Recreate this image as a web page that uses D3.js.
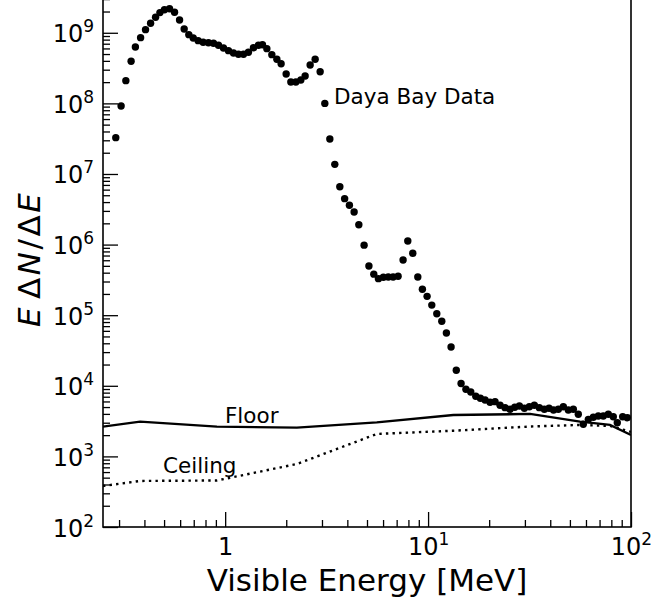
<!DOCTYPE html>
<html>
<head>
<meta charset="utf-8">
<script src="https://cdn.jsdelivr.net/npm/d3@7/dist/d3.min.js"></script>
<style>
  html, body { margin: 0; padding: 0; background: #fff; }
  svg { display: block; font-family: "DejaVu Sans", sans-serif; }
</style>
</head>
<body>
<svg id="chart" width="652" height="604"></svg>
<script>
// ---- data ----
const energy = [0.289, 0.307, 0.324, 0.344, 0.361, 0.383, 0.405, 0.429, 0.454, 0.477,
  0.502, 0.532, 0.563, 0.596, 0.628, 0.662, 0.696, 0.736, 0.779, 0.827,
  0.876, 0.927, 0.981, 1.038, 1.099, 1.163, 1.231, 1.302, 1.379, 1.459,
  1.527, 1.605, 1.698, 1.798, 1.887, 1.998, 2.107, 2.230, 2.360, 2.478,
  2.623, 2.776, 2.938, 3.098, 3.280, 3.470, 3.673, 3.879, 4.096, 4.320,
  4.557, 4.838, 5.110, 5.402, 5.691, 6.023, 6.368, 6.724, 7.116, 7.531,
  7.943, 8.406, 8.898, 9.374, 9.888, 10.43, 11.04, 11.68, 12.31, 12.98,
  13.77, 14.54, 15.36, 16.23, 17.18, 18.10, 19.09, 20.20, 21.38, 22.63,
  23.95, 25.35, 26.74, 28.18, 29.82, 31.55, 33.39, 35.34, 37.41, 39.46,
  41.52, 43.85, 46.40, 49.11, 51.97, 55.00, 58.21, 61.63, 65.22, 69.02,
  73.04, 77.30, 81.81, 85.60, 91.00, 95.90];
const counts = [3.27e7, 9.19e7, 2.10e8, 3.95e8, 6.29e8, 8.53e8, 1.107e9, 1.364e9, 1.657e9, 1.93e9,
  2.12e9, 2.19e9, 1.95e9, 1.518e9, 1.132e9, 9.40e8, 8.44e8, 7.73e8, 7.33e8, 7.24e8,
  7.10e8, 6.65e8, 6.09e8, 5.58e8, 5.17e8, 4.96e8, 4.96e8, 5.30e8, 6.15e8, 6.65e8,
  6.78e8, 5.96e8, 4.90e8, 4.22e8, 3.65e8, 2.61e8, 2.01e8, 2.01e8, 2.14e8, 2.44e8,
  3.50e8, 4.22e8, 2.81e8, 1.00e8, 3.13e7, 1.37e7, 6.61e6, 4.47e6, 3.60e6, 2.90e6,
  1.91e6, 9.81e5, 4.98e5, 3.81e5, 3.29e5, 3.44e5, 3.47e5, 3.48e5, 3.56e5, 6.05e5,
  1.125e6, 7.53e5, 3.48e5, 2.33e5, 1.85e5, 1.39e5, 1.05e5, 8.20e4, 5.60e4, 3.55e4,
  1.66e4, 1.08e4, 8.95e3, 8.17e3, 7.10e3, 6.65e3, 6.29e3, 5.84e3, 5.96e3, 5.29e3,
  4.90e3, 4.65e3, 4.96e3, 5.17e3, 4.80e3, 5.06e3, 5.29e3, 4.90e3, 4.65e3, 4.80e3,
  4.54e3, 4.65e3, 5.06e3, 4.54e3, 4.65e3, 3.95e3, 2.85e3, 3.35e3, 3.58e3, 3.73e3,
  3.73e3, 3.95e3, 3.65e3, 3.00e3, 3.65e3, 3.53e3];

const floorE = [0.25, 0.381, 0.91, 2.256, 5.588, 13.32, 31.8, 56.08, 78.81, 100];
const floorV = [2640, 3100, 2640, 2550, 3040, 3860, 3990, 3100, 2790, 2010];
const ceilE  = [0.25, 0.381, 0.91, 2.256, 5.588, 13.32, 31.8, 56.08, 78.81, 100];
const ceilV  = [381, 449, 456, 780, 2080, 2310, 2650, 2790, 2700, 2220];

const xMajor = [1, 10, 100];
const xMajorLabels = ["1", "10^1", "10^2"];
const xMinor = [0.3, 0.4, 0.5, 0.6, 0.7, 0.8, 0.9, 2, 3, 4, 5, 6, 7, 8, 9, 20, 30, 40, 50, 60, 70, 80, 90];
const yMajor = [1e2, 1e3, 1e4, 1e5, 1e6, 1e7, 1e8, 1e9];
const yMajorLabels = ["10^2", "10^3", "10^4", "10^5", "10^6", "10^7", "10^8", "10^9"];
const yMinorMult = [2, 3, 4, 5, 6, 7, 8, 9];

const xDomain = [0.25, 100];
const yDomain = [1e2, 4.75e9];

const labels = {
  x: "Visible Energy [MeV]",
  data: "Daya Bay Data",
  floor: "Floor",
  ceiling: "Ceiling"
};

// ---- layout ----
const L = 103, R = 631, T = -15, B = 527;
const svg = d3.select("#chart");

const x = d3.scaleLog().domain(xDomain).range([L, R]);
const y = d3.scaleLog().domain(yDomain).range([B, T]);

const yMinor = [];
yMajor.forEach(p => yMinorMult.forEach(m => { const v = p * m; if (v < yDomain[1]) yMinor.push(v); }));

const clipId = "plotclip";
svg.append("defs").append("clipPath").attr("id", clipId)
  .append("rect").attr("x", L).attr("y", T).attr("width", R - L).attr("height", B - T);

const plot = svg.append("g").attr("clip-path", `url(#${clipId})`);

const line = d3.line().x(d => x(d[0])).y(d => y(d[1]));

plot.append("path")
  .datum(floorE.map((e, i) => [e, floorV[i]]))
  .attr("d", line).attr("fill", "none").attr("stroke", "#000").attr("stroke-width", 2.3);

plot.append("path")
  .datum(ceilE.map((e, i) => [e, ceilV[i]]))
  .attr("d", line).attr("fill", "none").attr("stroke", "#000").attr("stroke-width", 2.4)
  .attr("stroke-dasharray", "2.4,4.2");

const pts = energy.map((e, i) => [e, counts[i]]).filter(d => d[1] !== undefined);
plot.append("g").selectAll("circle").data(pts).enter().append("circle")
  .attr("cx", d => x(d[0])).attr("cy", d => y(d[1])).attr("r", 3.7).attr("fill", "#000");

// ---- axes (ticks inward) ----
function styleAxis(g) {
  g.select(".domain").remove();
  g.selectAll(".tick line").attr("stroke", "#000").attr("stroke-width", 1.3);
}
svg.append("g").attr("transform", `translate(0,${B})`)
  .call(d3.axisBottom(x).tickValues(xMinor).tickSize(-7).tickFormat(() => ""))
  .call(styleAxis);
const xMaj = svg.append("g").attr("transform", `translate(0,${B})`)
  .call(d3.axisBottom(x).tickValues(xMajor).tickSize(-15).tickFormat(() => ""))
  .call(styleAxis);
svg.append("g").attr("transform", `translate(${L},0)`)
  .call(d3.axisLeft(y).tickValues(yMinor).tickSize(-7).tickFormat(() => ""))
  .call(styleAxis);
const yMaj = svg.append("g").attr("transform", `translate(${L},0)`)
  .call(d3.axisLeft(y).tickValues(yMajor).tickSize(-15).tickFormat(() => ""))
  .call(styleAxis);

function putLabel(sel, str) {
  const parts = str.split("^");
  sel.text(null);
  sel.append("tspan").text(parts[0]);
  if (parts.length > 1) {
    sel.append("tspan").attr("dy", -10).attr("font-size", 17).text(parts[1]);
  }
}

xMaj.selectAll(".tick").each(function(d, i) {
  const t = d3.select(this).select("text");
  t.attr("y", 28).attr("dy", null).attr("fill", "#000").attr("font-size", 24)
   .attr("font-family", "DejaVu Sans").attr("text-anchor", "middle");
  putLabel(t, xMajorLabels[i]);
});
yMaj.selectAll(".tick").each(function(d, i) {
  const t = d3.select(this).select("text");
  t.attr("x", -9).attr("dy", null).attr("y", 9).attr("fill", "#000").attr("font-size", 24)
   .attr("font-family", "DejaVu Sans").attr("text-anchor", "end");
  putLabel(t, yMajorLabels[i]);
});

// frame
svg.append("rect").attr("x", L).attr("y", T).attr("width", R - L).attr("height", B - T)
  .attr("fill", "none").attr("stroke", "#000").attr("stroke-width", 1.6);

// axis titles
svg.append("text").attr("x", (L + R) / 2).attr("y", 591).attr("text-anchor", "middle")
  .attr("font-size", 31).attr("fill", "#000").text(labels.x);

const yl = svg.append("text").attr("transform", `translate(40,327) rotate(-90)`)
  .attr("text-anchor", "start").attr("font-size", 31).attr("fill", "#000")
  .attr("letter-spacing", 2.5);
yl.append("tspan").attr("font-style", "italic").text("E");
yl.append("tspan").attr("dx", 6).text("\u0394");
yl.append("tspan").attr("font-style", "italic").text("N");
yl.append("tspan").text("/\u0394");
yl.append("tspan").attr("font-style", "italic").text("E");

// annotations
svg.append("text").attr("x", 334).attr("y", 104).attr("font-size", 21.5).attr("fill", "#000").text(labels.data);
svg.append("text").attr("x", 225).attr("y", 423).attr("font-size", 21.5).attr("fill", "#000").text(labels.floor);
svg.append("text").attr("x", 163).attr("y", 472.5).attr("font-size", 21.5).attr("fill", "#000").text(labels.ceiling);
</script>
</body>
</html>
